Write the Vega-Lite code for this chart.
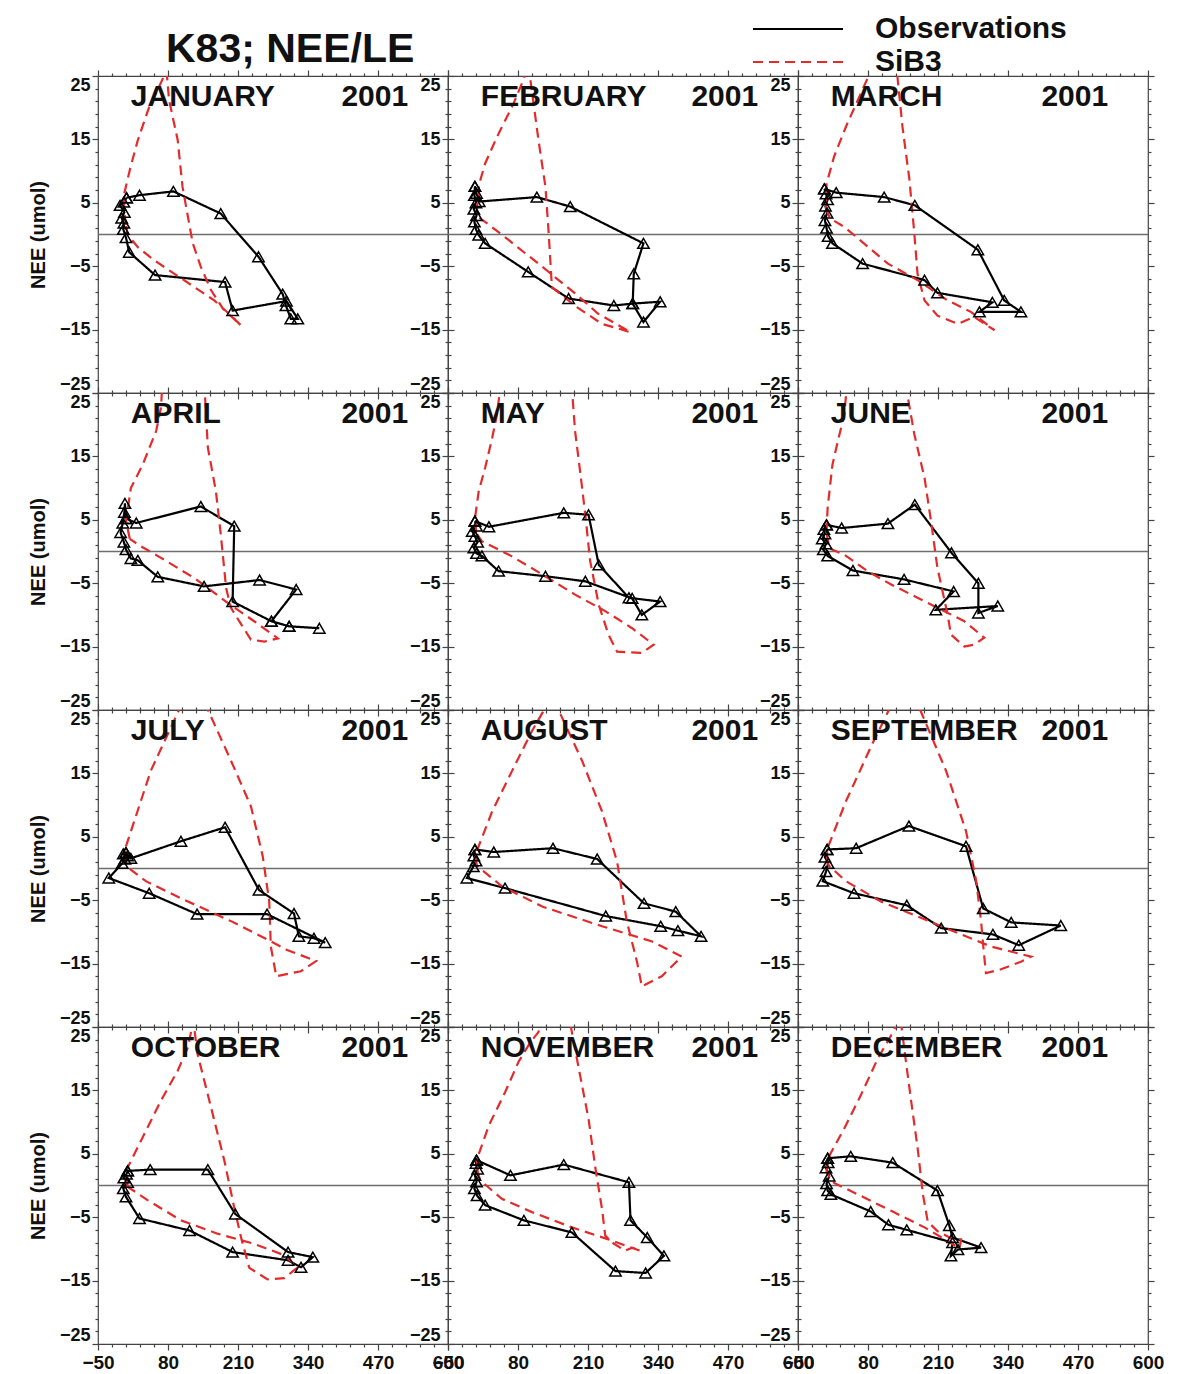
{
"$schema": "https://vega.github.io/schema/vega-lite/v6.json",
"padding": {"left": 27, "top": 14, "right": 10, "bottom": 5},
"title": {"text": "K83; NEE/LE", "anchor": "start", "frame": "group", "dx": 68, "dy": 89, "offset": 0, "baseline": "alphabetic", "fontSize": 41, "font": "Liberation Sans", "fontWeight": "bold", "color": "#111"},
"data": {"values": [
{"month":1,"series":"Observations","i":0,"le":3,"nee":5.8},{"month":1,"series":"Observations","i":1,"le":27,"nee":6.2},{"month":1,"series":"Observations","i":2,"le":90,"nee":6.8},{"month":1,"series":"Observations","i":3,"le":178,"nee":3.3},{"month":1,"series":"Observations","i":4,"le":248,"nee":-3.5},{"month":1,"series":"Observations","i":5,"le":293,"nee":-9.4},{"month":1,"series":"Observations","i":6,"le":299,"nee":-11.2},{"month":1,"series":"Observations","i":7,"le":308,"nee":-13.3},{"month":1,"series":"Observations","i":8,"le":321,"nee":-13.3},{"month":1,"series":"Observations","i":9,"le":300,"nee":-10.5},{"month":1,"series":"Observations","i":10,"le":200,"nee":-12},{"month":1,"series":"Observations","i":11,"le":186,"nee":-7.5},{"month":1,"series":"Observations","i":12,"le":56,"nee":-6.4},{"month":1,"series":"Observations","i":13,"le":8,"nee":-2.8},{"month":1,"series":"Observations","i":14,"le":2,"nee":-0.5},{"month":1,"series":"Observations","i":15,"le":-3,"nee":0.8},{"month":1,"series":"Observations","i":16,"le":-2,"nee":1.8},{"month":1,"series":"Observations","i":17,"le":-6,"nee":2.6},{"month":1,"series":"Observations","i":18,"le":-1,"nee":3.5},{"month":1,"series":"Observations","i":19,"le":-9,"nee":4.6},{"month":1,"series":"Observations","i":20,"le":-2,"nee":5.1},{"month":1,"series":"Observations","i":21,"le":3,"nee":5.8},
{"month":1,"series":"SiB3","i":0,"le":2,"nee":1.5},{"month":1,"series":"SiB3","i":1,"le":-1,"nee":3.5},{"month":1,"series":"SiB3","i":2,"le":-2,"nee":6.2},{"month":1,"series":"SiB3","i":3,"le":10,"nee":10.5},{"month":1,"series":"SiB3","i":4,"le":24,"nee":14.9},{"month":1,"series":"SiB3","i":5,"le":45,"nee":20.1},{"month":1,"series":"SiB3","i":6,"le":70,"nee":24.5},{"month":1,"series":"SiB3","i":7,"le":76,"nee":27},{"month":1,"series":"SiB3","i":8,"le":82,"nee":21.2},{"month":1,"series":"SiB3","i":9,"le":98,"nee":14.9},{"month":1,"series":"SiB3","i":10,"le":107,"nee":7.5},{"month":1,"series":"SiB3","i":11,"le":117,"nee":2.8},{"month":1,"series":"SiB3","i":12,"le":126,"nee":-1.4},{"month":1,"series":"SiB3","i":13,"le":141,"nee":-5.1},{"month":1,"series":"SiB3","i":14,"le":160,"nee":-8.8},{"month":1,"series":"SiB3","i":15,"le":182,"nee":-11.7},{"month":1,"series":"SiB3","i":16,"le":215,"nee":-14.3},{"month":1,"series":"SiB3","i":17,"le":197,"nee":-12.8},{"month":1,"series":"SiB3","i":18,"le":166,"nee":-10.4},{"month":1,"series":"SiB3","i":19,"le":129,"nee":-8.3},{"month":1,"series":"SiB3","i":20,"le":92,"nee":-6.2},{"month":1,"series":"SiB3","i":21,"le":55,"nee":-4.1},{"month":1,"series":"SiB3","i":22,"le":24,"nee":-2},{"month":1,"series":"SiB3","i":23,"le":5,"nee":0},{"month":1,"series":"SiB3","i":24,"le":2,"nee":1.5},
{"month":2,"series":"Observations","i":0,"le":0,"nee":7.6},{"month":2,"series":"Observations","i":1,"le":3,"nee":6.5},{"month":2,"series":"Observations","i":2,"le":8,"nee":5.2},{"month":2,"series":"Observations","i":3,"le":115,"nee":5.9},{"month":2,"series":"Observations","i":4,"le":177,"nee":4.4},{"month":2,"series":"Observations","i":5,"le":313,"nee":-1.4},{"month":2,"series":"Observations","i":6,"le":295,"nee":-6.2},{"month":2,"series":"Observations","i":7,"le":293,"nee":-10.9},{"month":2,"series":"Observations","i":8,"le":344,"nee":-10.6},{"month":2,"series":"Observations","i":9,"le":313,"nee":-13.8},{"month":2,"series":"Observations","i":10,"le":293,"nee":-10.9},{"month":2,"series":"Observations","i":11,"le":258,"nee":-11.2},{"month":2,"series":"Observations","i":12,"le":174,"nee":-10.1},{"month":2,"series":"Observations","i":13,"le":99,"nee":-5.9},{"month":2,"series":"Observations","i":14,"le":19,"nee":-1.4},{"month":2,"series":"Observations","i":15,"le":7,"nee":-0.1},{"month":2,"series":"Observations","i":16,"le":2,"nee":0.8},{"month":2,"series":"Observations","i":17,"le":-1,"nee":2},{"month":2,"series":"Observations","i":18,"le":3,"nee":3},{"month":2,"series":"Observations","i":19,"le":-2,"nee":4},{"month":2,"series":"Observations","i":20,"le":2,"nee":5},{"month":2,"series":"Observations","i":21,"le":-1,"nee":6.2},{"month":2,"series":"Observations","i":22,"le":0,"nee":7.6},
{"month":2,"series":"SiB3","i":0,"le":3,"nee":3.5},{"month":2,"series":"SiB3","i":1,"le":8,"nee":8},{"month":2,"series":"SiB3","i":2,"le":19,"nee":11.2},{"month":2,"series":"SiB3","i":3,"le":41,"nee":15.4},{"month":2,"series":"SiB3","i":4,"le":72,"nee":20.7},{"month":2,"series":"SiB3","i":5,"le":91,"nee":24.6},{"month":2,"series":"SiB3","i":6,"le":97,"nee":27},{"month":2,"series":"SiB3","i":7,"le":103,"nee":24.4},{"month":2,"series":"SiB3","i":8,"le":118,"nee":14.9},{"month":2,"series":"SiB3","i":9,"le":131,"nee":7.5},{"month":2,"series":"SiB3","i":10,"le":137,"nee":0.2},{"month":2,"series":"SiB3","i":11,"le":143,"nee":-8.3},{"month":2,"series":"SiB3","i":12,"le":190,"nee":-11.5},{"month":2,"series":"SiB3","i":13,"le":236,"nee":-14.1},{"month":2,"series":"SiB3","i":14,"le":289,"nee":-15.4},{"month":2,"series":"SiB3","i":15,"le":229,"nee":-12.5},{"month":2,"series":"SiB3","i":16,"le":186,"nee":-9.3},{"month":2,"series":"SiB3","i":17,"le":118,"nee":-4.6},{"month":2,"series":"SiB3","i":18,"le":63,"nee":-0.9},{"month":2,"series":"SiB3","i":19,"le":19,"nee":2},{"month":2,"series":"SiB3","i":20,"le":5,"nee":2.8},{"month":2,"series":"SiB3","i":21,"le":3,"nee":3.5},
{"month":3,"series":"Observations","i":0,"le":-1,"nee":7.2},{"month":3,"series":"Observations","i":1,"le":21,"nee":6.6},{"month":3,"series":"Observations","i":2,"le":110,"nee":5.9},{"month":3,"series":"Observations","i":3,"le":167,"nee":4.6},{"month":3,"series":"Observations","i":4,"le":284,"nee":-2.4},{"month":3,"series":"Observations","i":5,"le":333,"nee":-10.4},{"month":3,"series":"Observations","i":6,"le":364,"nee":-12.2},{"month":3,"series":"Observations","i":7,"le":287,"nee":-12.2},{"month":3,"series":"Observations","i":8,"le":311,"nee":-10.7},{"month":3,"series":"Observations","i":9,"le":209,"nee":-9.2},{"month":3,"series":"Observations","i":10,"le":185,"nee":-7.2},{"month":3,"series":"Observations","i":11,"le":70,"nee":-4.6},{"month":3,"series":"Observations","i":12,"le":14,"nee":-1.4},{"month":3,"series":"Observations","i":13,"le":6,"nee":-0.3},{"month":3,"series":"Observations","i":14,"le":3,"nee":1},{"month":3,"series":"Observations","i":15,"le":0,"nee":2.2},{"month":3,"series":"Observations","i":16,"le":4,"nee":3.4},{"month":3,"series":"Observations","i":17,"le":1,"nee":4.5},{"month":3,"series":"Observations","i":18,"le":5,"nee":5.5},{"month":3,"series":"Observations","i":19,"le":2,"nee":6.4},{"month":3,"series":"Observations","i":20,"le":-1,"nee":7.2},
{"month":3,"series":"SiB3","i":0,"le":2,"nee":4},{"month":3,"series":"SiB3","i":1,"le":3,"nee":8},{"month":3,"series":"SiB3","i":2,"le":17,"nee":12.3},{"month":3,"series":"SiB3","i":3,"le":39,"nee":17},{"month":3,"series":"SiB3","i":4,"le":61,"nee":21.2},{"month":3,"series":"SiB3","i":5,"le":79,"nee":24.6},{"month":3,"series":"SiB3","i":6,"le":90,"nee":35},{"month":3,"series":"SiB3","i":7,"le":128,"nee":35},{"month":3,"series":"SiB3","i":8,"le":135,"nee":24.6},{"month":3,"series":"SiB3","i":9,"le":144,"nee":17},{"month":3,"series":"SiB3","i":10,"le":157,"nee":8.6},{"month":3,"series":"SiB3","i":11,"le":166,"nee":0.2},{"month":3,"series":"SiB3","i":12,"le":172,"nee":-6.2},{"month":3,"series":"SiB3","i":13,"le":185,"nee":-10.4},{"month":3,"series":"SiB3","i":14,"le":209,"nee":-12.8},{"month":3,"series":"SiB3","i":15,"le":247,"nee":-14.1},{"month":3,"series":"SiB3","i":16,"le":277,"nee":-13},{"month":3,"series":"SiB3","i":17,"le":315,"nee":-15.1},{"month":3,"series":"SiB3","i":18,"le":271,"nee":-12.2},{"month":3,"series":"SiB3","i":19,"le":228,"nee":-10.4},{"month":3,"series":"SiB3","i":20,"le":172,"nee":-7.2},{"month":3,"series":"SiB3","i":21,"le":117,"nee":-4.6},{"month":3,"series":"SiB3","i":22,"le":36,"nee":1.2},{"month":3,"series":"SiB3","i":23,"le":10,"nee":2.5},{"month":3,"series":"SiB3","i":24,"le":2,"nee":4},
{"month":4,"series":"Observations","i":0,"le":2,"nee":5.2},{"month":4,"series":"Observations","i":1,"le":21,"nee":4.5},{"month":4,"series":"Observations","i":2,"le":141,"nee":7.1},{"month":4,"series":"Observations","i":3,"le":203,"nee":4},{"month":4,"series":"Observations","i":4,"le":200,"nee":-7.9},{"month":4,"series":"Observations","i":5,"le":272,"nee":-11},{"month":4,"series":"Observations","i":6,"le":305,"nee":-11.8},{"month":4,"series":"Observations","i":7,"le":361,"nee":-12.1},{"month":4,"series":"Observations","i":8,"le":305,"nee":-11.8},{"month":4,"series":"Observations","i":9,"le":272,"nee":-11},{"month":4,"series":"Observations","i":10,"le":318,"nee":-6},{"month":4,"series":"Observations","i":11,"le":250,"nee":-4.5},{"month":4,"series":"Observations","i":12,"le":147,"nee":-5.5},{"month":4,"series":"Observations","i":13,"le":61,"nee":-4},{"month":4,"series":"Observations","i":14,"le":24,"nee":-1.4},{"month":4,"series":"Observations","i":15,"le":11,"nee":-1.1},{"month":4,"series":"Observations","i":16,"le":2,"nee":0.3},{"month":4,"series":"Observations","i":17,"le":-2,"nee":1.5},{"month":4,"series":"Observations","i":18,"le":-8,"nee":3},{"month":4,"series":"Observations","i":19,"le":-4,"nee":4.5},{"month":4,"series":"Observations","i":20,"le":-1,"nee":6.2},{"month":4,"series":"Observations","i":21,"le":0,"nee":7.6},{"month":4,"series":"Observations","i":22,"le":2,"nee":5.2},
{"month":4,"series":"SiB3","i":0,"le":9,"nee":2},{"month":4,"series":"SiB3","i":1,"le":2,"nee":4.8},{"month":4,"series":"SiB3","i":2,"le":11,"nee":10},{"month":4,"series":"SiB3","i":3,"le":33,"nee":13.7},{"month":4,"series":"SiB3","i":4,"le":58,"nee":19},{"month":4,"series":"SiB3","i":5,"le":67,"nee":22.7},{"month":4,"series":"SiB3","i":6,"le":75,"nee":35},{"month":4,"series":"SiB3","i":7,"le":142,"nee":35},{"month":4,"series":"SiB3","i":8,"le":154,"nee":16.4},{"month":4,"series":"SiB3","i":9,"le":169,"nee":9.5},{"month":4,"series":"SiB3","i":10,"le":178,"nee":2.7},{"month":4,"series":"SiB3","i":11,"le":188,"nee":-5.8},{"month":4,"series":"SiB3","i":12,"le":197,"nee":-8.9},{"month":4,"series":"SiB3","i":13,"le":216,"nee":-11.5},{"month":4,"series":"SiB3","i":14,"le":234,"nee":-13.9},{"month":4,"series":"SiB3","i":15,"le":259,"nee":-14.2},{"month":4,"series":"SiB3","i":16,"le":284,"nee":-13.7},{"month":4,"series":"SiB3","i":17,"le":240,"nee":-11},{"month":4,"series":"SiB3","i":18,"le":191,"nee":-8.1},{"month":4,"series":"SiB3","i":19,"le":129,"nee":-4.2},{"month":4,"series":"SiB3","i":20,"le":67,"nee":-1},{"month":4,"series":"SiB3","i":21,"le":30,"nee":0.8},{"month":4,"series":"SiB3","i":22,"le":9,"nee":2},
{"month":5,"series":"Observations","i":0,"le":0,"nee":4.8},{"month":5,"series":"Observations","i":1,"le":26,"nee":3.9},{"month":5,"series":"Observations","i":2,"le":165,"nee":6.1},{"month":5,"series":"Observations","i":3,"le":211,"nee":5.8},{"month":5,"series":"Observations","i":4,"le":230,"nee":-2.1},{"month":5,"series":"Observations","i":5,"le":286,"nee":-7.3},{"month":5,"series":"Observations","i":6,"le":344,"nee":-7.9},{"month":5,"series":"Observations","i":7,"le":310,"nee":-10},{"month":5,"series":"Observations","i":8,"le":292,"nee":-7.4},{"month":5,"series":"Observations","i":9,"le":205,"nee":-4.7},{"month":5,"series":"Observations","i":10,"le":131,"nee":-3.9},{"month":5,"series":"Observations","i":11,"le":44,"nee":-3.1},{"month":5,"series":"Observations","i":12,"le":13,"nee":-0.7},{"month":5,"series":"Observations","i":13,"le":3,"nee":-0.3},{"month":5,"series":"Observations","i":14,"le":-2,"nee":0.6},{"month":5,"series":"Observations","i":15,"le":5,"nee":1.5},{"month":5,"series":"Observations","i":16,"le":0,"nee":2.4},{"month":5,"series":"Observations","i":17,"le":-5,"nee":3.2},{"month":5,"series":"Observations","i":18,"le":3,"nee":4},{"month":5,"series":"Observations","i":19,"le":0,"nee":4.8},
{"month":5,"series":"SiB3","i":0,"le":2,"nee":3},{"month":5,"series":"SiB3","i":1,"le":1,"nee":5.8},{"month":5,"series":"SiB3","i":2,"le":7,"nee":9.5},{"month":5,"series":"SiB3","i":3,"le":19,"nee":13.2},{"month":5,"series":"SiB3","i":4,"le":32,"nee":17.9},{"month":5,"series":"SiB3","i":5,"le":41,"nee":21.6},{"month":5,"series":"SiB3","i":6,"le":60,"nee":35},{"month":5,"series":"SiB3","i":7,"le":172,"nee":35},{"month":5,"series":"SiB3","i":8,"le":186,"nee":19},{"month":5,"series":"SiB3","i":9,"le":196,"nee":12.2},{"month":5,"series":"SiB3","i":10,"le":205,"nee":5.8},{"month":5,"series":"SiB3","i":11,"le":214,"nee":-1.5},{"month":5,"series":"SiB3","i":12,"le":230,"nee":-8.4},{"month":5,"series":"SiB3","i":13,"le":248,"nee":-13.1},{"month":5,"series":"SiB3","i":14,"le":264,"nee":-15.8},{"month":5,"series":"SiB3","i":15,"le":310,"nee":-16},{"month":5,"series":"SiB3","i":16,"le":332,"nee":-14.7},{"month":5,"series":"SiB3","i":17,"le":292,"nee":-12.1},{"month":5,"series":"SiB3","i":18,"le":242,"nee":-9.4},{"month":5,"series":"SiB3","i":19,"le":186,"nee":-6.8},{"month":5,"series":"SiB3","i":20,"le":125,"nee":-3.6},{"month":5,"series":"SiB3","i":21,"le":63,"nee":-0.5},{"month":5,"series":"SiB3","i":22,"le":13,"nee":1.6},{"month":5,"series":"SiB3","i":23,"le":2,"nee":3},
{"month":6,"series":"Observations","i":0,"le":3,"nee":4.2},{"month":6,"series":"Observations","i":1,"le":31,"nee":3.7},{"month":6,"series":"Observations","i":2,"le":117,"nee":4.4},{"month":6,"series":"Observations","i":3,"le":167,"nee":7.4},{"month":6,"series":"Observations","i":4,"le":235,"nee":-0.2},{"month":6,"series":"Observations","i":5,"le":285,"nee":-5},{"month":6,"series":"Observations","i":6,"le":285,"nee":-9.7},{"month":6,"series":"Observations","i":7,"le":321,"nee":-8.6},{"month":6,"series":"Observations","i":8,"le":206,"nee":-9.2},{"month":6,"series":"Observations","i":9,"le":239,"nee":-6.3},{"month":6,"series":"Observations","i":10,"le":147,"nee":-4.4},{"month":6,"series":"Observations","i":11,"le":52,"nee":-3},{"month":6,"series":"Observations","i":12,"le":5,"nee":-0.7},{"month":6,"series":"Observations","i":13,"le":-3,"nee":0.3},{"month":6,"series":"Observations","i":14,"le":2,"nee":1.2},{"month":6,"series":"Observations","i":15,"le":-5,"nee":2},{"month":6,"series":"Observations","i":16,"le":0,"nee":2.8},{"month":6,"series":"Observations","i":17,"le":-2,"nee":3.5},{"month":6,"series":"Observations","i":18,"le":3,"nee":4.2},
{"month":6,"series":"SiB3","i":0,"le":3,"nee":3},{"month":6,"series":"SiB3","i":1,"le":5,"nee":6.9},{"month":6,"series":"SiB3","i":2,"le":14,"nee":13.7},{"month":6,"series":"SiB3","i":3,"le":24,"nee":17.4},{"month":6,"series":"SiB3","i":4,"le":36,"nee":21.6},{"month":6,"series":"SiB3","i":5,"le":50,"nee":35},{"month":6,"series":"SiB3","i":6,"le":132,"nee":35},{"month":6,"series":"SiB3","i":7,"le":166,"nee":18.5},{"month":6,"series":"SiB3","i":8,"le":185,"nee":11.6},{"month":6,"series":"SiB3","i":9,"le":197,"nee":4.8},{"month":6,"series":"SiB3","i":10,"le":209,"nee":-2.6},{"month":6,"series":"SiB3","i":11,"le":228,"nee":-10},{"month":6,"series":"SiB3","i":12,"le":234,"nee":-13.1},{"month":6,"series":"SiB3","i":13,"le":259,"nee":-15},{"month":6,"series":"SiB3","i":14,"le":277,"nee":-14.7},{"month":6,"series":"SiB3","i":15,"le":296,"nee":-13.6},{"month":6,"series":"SiB3","i":16,"le":259,"nee":-11},{"month":6,"series":"SiB3","i":17,"le":172,"nee":-7.3},{"month":6,"series":"SiB3","i":18,"le":123,"nee":-5.2},{"month":6,"series":"SiB3","i":19,"le":79,"nee":-3.1},{"month":6,"series":"SiB3","i":20,"le":36,"nee":-0.5},{"month":6,"series":"SiB3","i":21,"le":8,"nee":0.5},{"month":6,"series":"SiB3","i":22,"le":3,"nee":3},
{"month":7,"series":"Observations","i":0,"le":2,"nee":2.5},{"month":7,"series":"Observations","i":1,"le":11,"nee":1.6},{"month":7,"series":"Observations","i":2,"le":104,"nee":4.3},{"month":7,"series":"Observations","i":3,"le":186,"nee":6.5},{"month":7,"series":"Observations","i":4,"le":249,"nee":-3.4},{"month":7,"series":"Observations","i":5,"le":314,"nee":-7.1},{"month":7,"series":"Observations","i":6,"le":323,"nee":-10.7},{"month":7,"series":"Observations","i":7,"le":351,"nee":-11},{"month":7,"series":"Observations","i":8,"le":372,"nee":-11.7},{"month":7,"series":"Observations","i":9,"le":264,"nee":-7.2},{"month":7,"series":"Observations","i":10,"le":134,"nee":-7.2},{"month":7,"series":"Observations","i":11,"le":45,"nee":-3.9},{"month":7,"series":"Observations","i":12,"le":-30,"nee":-1.5},{"month":7,"series":"Observations","i":13,"le":-5,"nee":0.8},{"month":7,"series":"Observations","i":14,"le":0,"nee":1.5},{"month":7,"series":"Observations","i":15,"le":5,"nee":2},{"month":7,"series":"Observations","i":16,"le":-3,"nee":2.3},{"month":7,"series":"Observations","i":17,"le":2,"nee":2.5},
{"month":7,"series":"SiB3","i":0,"le":2,"nee":1},{"month":7,"series":"SiB3","i":1,"le":0,"nee":3},{"month":7,"series":"SiB3","i":2,"le":48,"nee":15.4},{"month":7,"series":"SiB3","i":3,"le":95,"nee":24},{"month":7,"series":"SiB3","i":4,"le":127,"nee":30},{"month":7,"series":"SiB3","i":5,"le":151,"nee":25.6},{"month":7,"series":"SiB3","i":6,"le":197,"nee":17},{"month":7,"series":"SiB3","i":7,"le":234,"nee":9.8},{"month":7,"series":"SiB3","i":8,"le":256,"nee":1.9},{"month":7,"series":"SiB3","i":9,"le":268,"nee":-5.2},{"month":7,"series":"SiB3","i":10,"le":271,"nee":-12.3},{"month":7,"series":"SiB3","i":11,"le":281,"nee":-17},{"month":7,"series":"SiB3","i":12,"le":327,"nee":-16.2},{"month":7,"series":"SiB3","i":13,"le":355,"nee":-14.6},{"month":7,"series":"SiB3","i":14,"le":300,"nee":-12.8},{"month":7,"series":"SiB3","i":15,"le":271,"nee":-11.5},{"month":7,"series":"SiB3","i":16,"le":197,"nee":-8.3},{"month":7,"series":"SiB3","i":17,"le":104,"nee":-4.7},{"month":7,"series":"SiB3","i":18,"le":39,"nee":-2},{"month":7,"series":"SiB3","i":19,"le":2,"nee":0.4},{"month":7,"series":"SiB3","i":20,"le":2,"nee":1},
{"month":8,"series":"Observations","i":0,"le":0,"nee":3},{"month":8,"series":"Observations","i":1,"le":35,"nee":2.6},{"month":8,"series":"Observations","i":2,"le":145,"nee":3.2},{"month":8,"series":"Observations","i":3,"le":227,"nee":1.5},{"month":8,"series":"Observations","i":4,"le":314,"nee":-5.5},{"month":8,"series":"Observations","i":5,"le":373,"nee":-6.8},{"month":8,"series":"Observations","i":6,"le":420,"nee":-10.7},{"month":8,"series":"Observations","i":7,"le":377,"nee":-9.8},{"month":8,"series":"Observations","i":8,"le":345,"nee":-9.1},{"month":8,"series":"Observations","i":9,"le":243,"nee":-7.5},{"month":8,"series":"Observations","i":10,"le":56,"nee":-3.1},{"month":8,"series":"Observations","i":11,"le":-15,"nee":-1.5},{"month":8,"series":"Observations","i":12,"le":-3,"nee":0.3},{"month":8,"series":"Observations","i":13,"le":2,"nee":1.2},{"month":8,"series":"Observations","i":14,"le":-2,"nee":2},{"month":8,"series":"Observations","i":15,"le":0,"nee":3},
{"month":8,"series":"SiB3","i":0,"le":4,"nee":0.4},{"month":8,"series":"SiB3","i":1,"le":0,"nee":2},{"month":8,"series":"SiB3","i":2,"le":32,"nee":9},{"month":8,"series":"SiB3","i":3,"le":69,"nee":15.4},{"month":8,"series":"SiB3","i":4,"le":106,"nee":21.7},{"month":8,"series":"SiB3","i":5,"le":125,"nee":24.5},{"month":8,"series":"SiB3","i":6,"le":143,"nee":27.2},{"month":8,"series":"SiB3","i":7,"le":152,"nee":25.6},{"month":8,"series":"SiB3","i":8,"le":199,"nee":17},{"month":8,"series":"SiB3","i":9,"le":236,"nee":9},{"month":8,"series":"SiB3","i":10,"le":264,"nee":1.1},{"month":8,"series":"SiB3","i":11,"le":282,"nee":-8.3},{"month":8,"series":"SiB3","i":12,"le":301,"nee":-14.7},{"month":8,"series":"SiB3","i":13,"le":310,"nee":-18.6},{"month":8,"series":"SiB3","i":14,"le":347,"nee":-17},{"month":8,"series":"SiB3","i":15,"le":384,"nee":-13.9},{"month":8,"series":"SiB3","i":16,"le":329,"nee":-11.5},{"month":8,"series":"SiB3","i":17,"le":236,"nee":-9.1},{"month":8,"series":"SiB3","i":18,"le":125,"nee":-6},{"month":8,"series":"SiB3","i":19,"le":50,"nee":-2.8},{"month":8,"series":"SiB3","i":20,"le":4,"nee":0.4},
{"month":9,"series":"Observations","i":0,"le":4,"nee":3},{"month":9,"series":"Observations","i":1,"le":58,"nee":3.2},{"month":9,"series":"Observations","i":2,"le":156,"nee":6.7},{"month":9,"series":"Observations","i":3,"le":262,"nee":3.5},{"month":9,"series":"Observations","i":4,"le":294,"nee":-6.3},{"month":9,"series":"Observations","i":5,"le":346,"nee":-8.5},{"month":9,"series":"Observations","i":6,"le":438,"nee":-9},{"month":9,"series":"Observations","i":7,"le":360,"nee":-12.1},{"month":9,"series":"Observations","i":8,"le":312,"nee":-10.4},{"month":9,"series":"Observations","i":9,"le":216,"nee":-9.4},{"month":9,"series":"Observations","i":10,"le":152,"nee":-5.8},{"month":9,"series":"Observations","i":11,"le":54,"nee":-3.9},{"month":9,"series":"Observations","i":12,"le":-4,"nee":-2},{"month":9,"series":"Observations","i":13,"le":2,"nee":-0.5},{"month":9,"series":"Observations","i":14,"le":6,"nee":0.8},{"month":9,"series":"Observations","i":15,"le":0,"nee":1.8},{"month":9,"series":"Observations","i":16,"le":4,"nee":3},
{"month":9,"series":"SiB3","i":0,"le":4,"nee":1},{"month":9,"series":"SiB3","i":1,"le":4,"nee":3},{"month":9,"series":"SiB3","i":2,"le":39,"nee":10.6},{"month":9,"series":"SiB3","i":3,"le":86,"nee":19.3},{"month":9,"series":"SiB3","i":4,"le":113,"nee":24},{"month":9,"series":"SiB3","i":5,"le":150,"nee":30.4},{"month":9,"series":"SiB3","i":6,"le":178,"nee":24.8},{"month":9,"series":"SiB3","i":7,"le":225,"nee":15.4},{"month":9,"series":"SiB3","i":8,"le":262,"nee":5.9},{"month":9,"series":"SiB3","i":9,"le":281,"nee":-2},{"month":9,"series":"SiB3","i":10,"le":290,"nee":-8.3},{"month":9,"series":"SiB3","i":11,"le":295,"nee":-13.1},{"month":9,"series":"SiB3","i":12,"le":299,"nee":-16.5},{"month":9,"series":"SiB3","i":13,"le":327,"nee":-15.9},{"month":9,"series":"SiB3","i":14,"le":364,"nee":-14.7},{"month":9,"series":"SiB3","i":15,"le":383,"nee":-13.9},{"month":9,"series":"SiB3","i":16,"le":308,"nee":-12.3},{"month":9,"series":"SiB3","i":17,"le":216,"nee":-9.1},{"month":9,"series":"SiB3","i":18,"le":104,"nee":-5.2},{"month":9,"series":"SiB3","i":19,"le":39,"nee":-2},{"month":9,"series":"SiB3","i":20,"le":8,"nee":0.4},{"month":9,"series":"SiB3","i":21,"le":4,"nee":1},
{"month":10,"series":"Observations","i":0,"le":5,"nee":2.3},{"month":10,"series":"Observations","i":1,"le":47,"nee":2.5},{"month":10,"series":"Observations","i":2,"le":154,"nee":2.5},{"month":10,"series":"Observations","i":3,"le":205,"nee":-4.5},{"month":10,"series":"Observations","i":4,"le":303,"nee":-10.5},{"month":10,"series":"Observations","i":5,"le":349,"nee":-11.3},{"month":10,"series":"Observations","i":6,"le":327,"nee":-12.9},{"month":10,"series":"Observations","i":7,"le":303,"nee":-11.8},{"month":10,"series":"Observations","i":8,"le":200,"nee":-10.5},{"month":10,"series":"Observations","i":9,"le":120,"nee":-7.1},{"month":10,"series":"Observations","i":10,"le":27,"nee":-5.2},{"month":10,"series":"Observations","i":11,"le":2,"nee":-1.8},{"month":10,"series":"Observations","i":12,"le":-3,"nee":-0.5},{"month":10,"series":"Observations","i":13,"le":5,"nee":0.5},{"month":10,"series":"Observations","i":14,"le":-2,"nee":1.2},{"month":10,"series":"Observations","i":15,"le":3,"nee":1.8},{"month":10,"series":"Observations","i":16,"le":5,"nee":2.3},
{"month":10,"series":"SiB3","i":0,"le":5,"nee":-0.2},{"month":10,"series":"SiB3","i":1,"le":2,"nee":2.3},{"month":10,"series":"SiB3","i":2,"le":30,"nee":7.1},{"month":10,"series":"SiB3","i":3,"le":67,"nee":13.4},{"month":10,"series":"SiB3","i":4,"le":98,"nee":18.1},{"month":10,"series":"SiB3","i":5,"le":117,"nee":21.8},{"month":10,"series":"SiB3","i":6,"le":127,"nee":26},{"month":10,"series":"SiB3","i":7,"le":135,"nee":20.7},{"month":10,"series":"SiB3","i":8,"le":160,"nee":12.3},{"month":10,"series":"SiB3","i":9,"le":185,"nee":3.8},{"month":10,"series":"SiB3","i":10,"le":203,"nee":-3.5},{"month":10,"series":"SiB3","i":11,"le":216,"nee":-8.3},{"month":10,"series":"SiB3","i":12,"le":231,"nee":-13},{"month":10,"series":"SiB3","i":13,"le":265,"nee":-14.8},{"month":10,"series":"SiB3","i":14,"le":296,"nee":-14.6},{"month":10,"series":"SiB3","i":15,"le":321,"nee":-12.9},{"month":10,"series":"SiB3","i":16,"le":296,"nee":-11},{"month":10,"series":"SiB3","i":17,"le":240,"nee":-9.2},{"month":10,"series":"SiB3","i":18,"le":172,"nee":-7.6},{"month":10,"series":"SiB3","i":19,"le":104,"nee":-5.5},{"month":10,"series":"SiB3","i":20,"le":42,"nee":-2.3},{"month":10,"series":"SiB3","i":21,"le":5,"nee":-0.2},
{"month":11,"series":"Observations","i":0,"le":3,"nee":4},{"month":11,"series":"Observations","i":1,"le":66,"nee":1.6},{"month":11,"series":"Observations","i":2,"le":165,"nee":3.3},{"month":11,"series":"Observations","i":3,"le":286,"nee":0.5},{"month":11,"series":"Observations","i":4,"le":289,"nee":-5.5},{"month":11,"series":"Observations","i":5,"le":320,"nee":-8.2},{"month":11,"series":"Observations","i":6,"le":351,"nee":-11.1},{"month":11,"series":"Observations","i":7,"le":317,"nee":-13.8},{"month":11,"series":"Observations","i":8,"le":261,"nee":-13.5},{"month":11,"series":"Observations","i":9,"le":180,"nee":-7.4},{"month":11,"series":"Observations","i":10,"le":91,"nee":-5.5},{"month":11,"series":"Observations","i":11,"le":19,"nee":-3.1},{"month":11,"series":"Observations","i":12,"le":4,"nee":-1.6},{"month":11,"series":"Observations","i":13,"le":-1,"nee":-0.5},{"month":11,"series":"Observations","i":14,"le":3,"nee":0.6},{"month":11,"series":"Observations","i":15,"le":0,"nee":1.6},{"month":11,"series":"Observations","i":16,"le":5,"nee":2.6},{"month":11,"series":"Observations","i":17,"le":2,"nee":3.5},{"month":11,"series":"Observations","i":18,"le":3,"nee":4},
{"month":11,"series":"SiB3","i":0,"le":4,"nee":2.5},{"month":11,"series":"SiB3","i":1,"le":4,"nee":4.2},{"month":11,"series":"SiB3","i":2,"le":26,"nee":9.5},{"month":11,"series":"SiB3","i":3,"le":56,"nee":14.7},{"month":11,"series":"SiB3","i":4,"le":81,"nee":19.5},{"month":11,"series":"SiB3","i":5,"le":103,"nee":22.6},{"month":11,"series":"SiB3","i":6,"le":118,"nee":24.2},{"month":11,"series":"SiB3","i":7,"le":130,"nee":30},{"month":11,"series":"SiB3","i":8,"le":168,"nee":30},{"month":11,"series":"SiB3","i":9,"le":180,"nee":24.2},{"month":11,"series":"SiB3","i":10,"le":193,"nee":18.4},{"month":11,"series":"SiB3","i":11,"le":211,"nee":10.5},{"month":11,"series":"SiB3","i":12,"le":224,"nee":2.6},{"month":11,"series":"SiB3","i":13,"le":236,"nee":-3.7},{"month":11,"series":"SiB3","i":14,"le":242,"nee":-7.9},{"month":11,"series":"SiB3","i":15,"le":255,"nee":-9},{"month":11,"series":"SiB3","i":16,"le":279,"nee":-10.3},{"month":11,"series":"SiB3","i":17,"le":292,"nee":-9.8},{"month":11,"series":"SiB3","i":18,"le":307,"nee":-10.3},{"month":11,"series":"SiB3","i":19,"le":248,"nee":-8.5},{"month":11,"series":"SiB3","i":20,"le":180,"nee":-6.6},{"month":11,"series":"SiB3","i":21,"le":106,"nee":-4.2},{"month":11,"series":"SiB3","i":22,"le":50,"nee":-2.1},{"month":11,"series":"SiB3","i":23,"le":10,"nee":0.8},{"month":11,"series":"SiB3","i":24,"le":4,"nee":2.5},
{"month":12,"series":"Observations","i":0,"le":5,"nee":4.3},{"month":12,"series":"Observations","i":1,"le":48,"nee":4.6},{"month":12,"series":"Observations","i":2,"le":126,"nee":3.6},{"month":12,"series":"Observations","i":3,"le":209,"nee":-0.8},{"month":12,"series":"Observations","i":4,"le":231,"nee":-6.3},{"month":12,"series":"Observations","i":5,"le":237,"nee":-8.2},{"month":12,"series":"Observations","i":6,"le":290,"nee":-9.8},{"month":12,"series":"Observations","i":7,"le":247,"nee":-10.1},{"month":12,"series":"Observations","i":8,"le":234,"nee":-11.1},{"month":12,"series":"Observations","i":9,"le":237,"nee":-9},{"month":12,"series":"Observations","i":10,"le":152,"nee":-7},{"month":12,"series":"Observations","i":11,"le":118,"nee":-6.2},{"month":12,"series":"Observations","i":12,"le":85,"nee":-4.1},{"month":12,"series":"Observations","i":13,"le":11,"nee":-1.4},{"month":12,"series":"Observations","i":14,"le":5,"nee":-0.8},{"month":12,"series":"Observations","i":15,"le":3,"nee":0.3},{"month":12,"series":"Observations","i":16,"le":8,"nee":1.5},{"month":12,"series":"Observations","i":17,"le":2,"nee":2.8},{"month":12,"series":"Observations","i":18,"le":6,"nee":3.6},{"month":12,"series":"Observations","i":19,"le":5,"nee":4.3},
{"month":12,"series":"SiB3","i":0,"le":3,"nee":2},{"month":12,"series":"SiB3","i":1,"le":5,"nee":4.2},{"month":12,"series":"SiB3","i":2,"le":36,"nee":9},{"month":12,"series":"SiB3","i":3,"le":67,"nee":14.3},{"month":12,"series":"SiB3","i":4,"le":98,"nee":20},{"month":12,"series":"SiB3","i":5,"le":123,"nee":23.7},{"month":12,"series":"SiB3","i":6,"le":140,"nee":26.5},{"month":12,"series":"SiB3","i":7,"le":147,"nee":21.8},{"month":12,"series":"SiB3","i":8,"le":160,"nee":13.4},{"month":12,"series":"SiB3","i":9,"le":172,"nee":6},{"month":12,"series":"SiB3","i":10,"le":182,"nee":-1.4},{"month":12,"series":"SiB3","i":11,"le":191,"nee":-5.7},{"month":12,"series":"SiB3","i":12,"le":209,"nee":-7.2},{"month":12,"series":"SiB3","i":13,"le":234,"nee":-8.3},{"month":12,"series":"SiB3","i":14,"le":253,"nee":-8.5},{"month":12,"series":"SiB3","i":15,"le":250,"nee":-9.9},{"month":12,"series":"SiB3","i":16,"le":185,"nee":-6.6},{"month":12,"series":"SiB3","i":17,"le":123,"nee":-4},{"month":12,"series":"SiB3","i":18,"le":61,"nee":-1.4},{"month":12,"series":"SiB3","i":19,"le":17,"nee":0.4},{"month":12,"series":"SiB3","i":20,"le":3,"nee":2}
]},
"datasets": {"labels": [
{"month":1,"name":"JANUARY","year":"2001"},{"month":2,"name":"FEBRUARY","year":"2001"},{"month":3,"name":"MARCH","year":"2001"},{"month":4,"name":"APRIL","year":"2001"},{"month":5,"name":"MAY","year":"2001"},{"month":6,"name":"JUNE","year":"2001"},{"month":7,"name":"JULY","year":"2001"},{"month":8,"name":"AUGUST","year":"2001"},{"month":9,"name":"SEPTEMBER","year":"2001"},{"month":10,"name":"OCTOBER","year":"2001"},{"month":11,"name":"NOVEMBER","year":"2001"},{"month":12,"name":"DECEMBER","year":"2001"}
]},
"columns": 3,
"spacing": 0,
"bounds": "flush",
"concat": [
{"layer":[
{"data":{"name":"labels"},"transform":[{"filter":"datum.month==1"}],"mark":"rule","encoding":{"y":{"datum":0,"type":"quantitative","scale":{"domain":[-25,25],"nice":false,"zero":false},"axis":{"values":[-25,-23,-21,-19,-17,-15,-13,-11,-9,-7,-5,-3,-1,1,3,5,7,9,11,13,15,17,19,21,23,25],"tickSize":{"condition":{"test":"abs(datum.value)%10==5","value":6},"value":3},"labelExpr":"abs(datum.value)%10==5 ? datum.label : ''","title":"NEE (umol)"}}}},
{"transform":[{"filter":"datum.month==1"}],"mark":{"type":"line","clip":true},"encoding":{"x":{"field":"le","type":"quantitative","scale":{"domain":[-50,600],"nice":false,"zero":false},"axis":{"values":[-50,-24,2,28,54,80,106,132,158,184,210,236,262,288,314,340,366,392,418,444,470,496,522,548,574,600],"tickSize":{"condition":{"test":"(datum.value+50)%130==0","value":6},"value":3},"labels":false,"title":null}},"y":{"field":"nee","type":"quantitative","scale":{"domain":[-25,25],"nice":false,"zero":false},"axis":null},"color":{"field":"series","type":"nominal","scale":{"domain":["Observations","SiB3"],"range":["#000000","#e32b2b"]},"legend":{"title":null,"orient":"none","legendX":685,"legendY":-62,"symbolType":"M-9,0H9","symbolSize":100,"symbolStrokeWidth":2,"labelOffset":62,"rowPadding":3,"labelFontSize":30,"labelFontWeight":"bold","labelFont":"Liberation Sans","labelLimit":400}},"strokeDash":{"field":"series","type":"nominal","scale":{"domain":["Observations","SiB3"],"range":[[1,0],[10,6]]},"legend":{"title":null,"orient":"none","legendX":685,"legendY":-62,"symbolType":"M-9,0H9","symbolSize":100,"symbolStrokeWidth":2,"labelOffset":62,"rowPadding":3,"labelFontSize":30,"labelFontWeight":"bold","labelFont":"Liberation Sans","labelLimit":400}},"order":{"field":"i","type":"quantitative"}}},
{"transform":[{"filter":"datum.month==1 && datum.series=='Observations'"}],"mark":"point","encoding":{"x":{"field":"le","type":"quantitative","axis":{"orient":"top","values":[-50,-24,2,28,54,80,106,132,158,184,210,236,262,288,314,340,366,392,418,444,470,496,522,548,574,600],"tickSize":{"condition":{"test":"(datum.value+50)%130==0","value":6},"value":3},"labels":false,"title":null}},"y":{"field":"nee","type":"quantitative","axis":{"orient":"right","values":[-25,-23,-21,-19,-17,-15,-13,-11,-9,-7,-5,-3,-1,1,3,5,7,9,11,13,15,17,19,21,23,25],"tickSize":{"condition":{"test":"abs(datum.value)%10==5","value":6},"value":3},"labels":false,"title":null}}}},
{"data":{"name":"labels"},"transform":[{"filter":"datum.month==1"}],"mark":"text","encoding":{"x":{"datum":11,"type":"quantitative","axis":null},"y":{"datum":20.2,"type":"quantitative","axis":null},"text":{"field":"name"}}},
{"data":{"name":"labels"},"transform":[{"filter":"datum.month==1"}],"mark":{"type":"text","align":"right"},"encoding":{"x":{"datum":526,"type":"quantitative","axis":null},"y":{"datum":20.2,"type":"quantitative","axis":null},"text":{"field":"year"}}}
],"resolve":{"axis":{"x":"independent","y":"independent"}}},
{"layer":[
{"data":{"name":"labels"},"transform":[{"filter":"datum.month==2"}],"mark":"rule","encoding":{"y":{"datum":0,"type":"quantitative","scale":{"domain":[-25,25],"nice":false,"zero":false},"axis":{"values":[-25,-23,-21,-19,-17,-15,-13,-11,-9,-7,-5,-3,-1,1,3,5,7,9,11,13,15,17,19,21,23,25],"tickSize":{"condition":{"test":"abs(datum.value)%10==5","value":6},"value":3},"labelExpr":"abs(datum.value)%10==5 ? datum.label : ''","title":null}}}},
{"transform":[{"filter":"datum.month==2"}],"mark":{"type":"line","clip":true},"encoding":{"x":{"field":"le","type":"quantitative","scale":{"domain":[-50,600],"nice":false,"zero":false},"axis":{"values":[-50,-24,2,28,54,80,106,132,158,184,210,236,262,288,314,340,366,392,418,444,470,496,522,548,574,600],"tickSize":{"condition":{"test":"(datum.value+50)%130==0","value":6},"value":3},"labels":false,"title":null}},"y":{"field":"nee","type":"quantitative","scale":{"domain":[-25,25],"nice":false,"zero":false},"axis":null},"color":{"field":"series","type":"nominal","scale":{"domain":["Observations","SiB3"],"range":["#000000","#e32b2b"]},"legend":{"title":null}},"strokeDash":{"field":"series","type":"nominal","scale":{"domain":["Observations","SiB3"],"range":[[1,0],[10,6]]},"legend":{"title":null}},"order":{"field":"i","type":"quantitative"}}},
{"transform":[{"filter":"datum.month==2 && datum.series=='Observations'"}],"mark":"point","encoding":{"x":{"field":"le","type":"quantitative","axis":{"orient":"top","values":[-50,-24,2,28,54,80,106,132,158,184,210,236,262,288,314,340,366,392,418,444,470,496,522,548,574,600],"tickSize":{"condition":{"test":"(datum.value+50)%130==0","value":6},"value":3},"labels":false,"title":null}},"y":{"field":"nee","type":"quantitative","axis":{"orient":"right","values":[-25,-23,-21,-19,-17,-15,-13,-11,-9,-7,-5,-3,-1,1,3,5,7,9,11,13,15,17,19,21,23,25],"tickSize":{"condition":{"test":"abs(datum.value)%10==5","value":6},"value":3},"labels":false,"title":null}}}},
{"data":{"name":"labels"},"transform":[{"filter":"datum.month==2"}],"mark":"text","encoding":{"x":{"datum":11,"type":"quantitative","axis":null},"y":{"datum":20.2,"type":"quantitative","axis":null},"text":{"field":"name"}}},
{"data":{"name":"labels"},"transform":[{"filter":"datum.month==2"}],"mark":{"type":"text","align":"right"},"encoding":{"x":{"datum":526,"type":"quantitative","axis":null},"y":{"datum":20.2,"type":"quantitative","axis":null},"text":{"field":"year"}}}
],"resolve":{"axis":{"x":"independent","y":"independent"}}},
{"layer":[
{"data":{"name":"labels"},"transform":[{"filter":"datum.month==3"}],"mark":"rule","encoding":{"y":{"datum":0,"type":"quantitative","scale":{"domain":[-25,25],"nice":false,"zero":false},"axis":{"values":[-25,-23,-21,-19,-17,-15,-13,-11,-9,-7,-5,-3,-1,1,3,5,7,9,11,13,15,17,19,21,23,25],"tickSize":{"condition":{"test":"abs(datum.value)%10==5","value":6},"value":3},"labelExpr":"abs(datum.value)%10==5 ? datum.label : ''","title":null}}}},
{"transform":[{"filter":"datum.month==3"}],"mark":{"type":"line","clip":true},"encoding":{"x":{"field":"le","type":"quantitative","scale":{"domain":[-50,600],"nice":false,"zero":false},"axis":{"values":[-50,-24,2,28,54,80,106,132,158,184,210,236,262,288,314,340,366,392,418,444,470,496,522,548,574,600],"tickSize":{"condition":{"test":"(datum.value+50)%130==0","value":6},"value":3},"labels":false,"title":null}},"y":{"field":"nee","type":"quantitative","scale":{"domain":[-25,25],"nice":false,"zero":false},"axis":null},"color":{"field":"series","type":"nominal","scale":{"domain":["Observations","SiB3"],"range":["#000000","#e32b2b"]},"legend":{"title":null}},"strokeDash":{"field":"series","type":"nominal","scale":{"domain":["Observations","SiB3"],"range":[[1,0],[10,6]]},"legend":{"title":null}},"order":{"field":"i","type":"quantitative"}}},
{"transform":[{"filter":"datum.month==3 && datum.series=='Observations'"}],"mark":"point","encoding":{"x":{"field":"le","type":"quantitative","axis":{"orient":"top","values":[-50,-24,2,28,54,80,106,132,158,184,210,236,262,288,314,340,366,392,418,444,470,496,522,548,574,600],"tickSize":{"condition":{"test":"(datum.value+50)%130==0","value":6},"value":3},"labels":false,"title":null}},"y":{"field":"nee","type":"quantitative","axis":{"orient":"right","values":[-25,-23,-21,-19,-17,-15,-13,-11,-9,-7,-5,-3,-1,1,3,5,7,9,11,13,15,17,19,21,23,25],"tickSize":{"condition":{"test":"abs(datum.value)%10==5","value":6},"value":3},"labels":false,"title":null}}}},
{"data":{"name":"labels"},"transform":[{"filter":"datum.month==3"}],"mark":"text","encoding":{"x":{"datum":11,"type":"quantitative","axis":null},"y":{"datum":20.2,"type":"quantitative","axis":null},"text":{"field":"name"}}},
{"data":{"name":"labels"},"transform":[{"filter":"datum.month==3"}],"mark":{"type":"text","align":"right"},"encoding":{"x":{"datum":526,"type":"quantitative","axis":null},"y":{"datum":20.2,"type":"quantitative","axis":null},"text":{"field":"year"}}}
],"resolve":{"axis":{"x":"independent","y":"independent"}}},
{"layer":[
{"data":{"name":"labels"},"transform":[{"filter":"datum.month==4"}],"mark":"rule","encoding":{"y":{"datum":0,"type":"quantitative","scale":{"domain":[-25,25],"nice":false,"zero":false},"axis":{"values":[-25,-23,-21,-19,-17,-15,-13,-11,-9,-7,-5,-3,-1,1,3,5,7,9,11,13,15,17,19,21,23,25],"tickSize":{"condition":{"test":"abs(datum.value)%10==5","value":6},"value":3},"labelExpr":"abs(datum.value)%10==5 ? datum.label : ''","title":"NEE (umol)"}}}},
{"transform":[{"filter":"datum.month==4"}],"mark":{"type":"line","clip":true},"encoding":{"x":{"field":"le","type":"quantitative","scale":{"domain":[-50,600],"nice":false,"zero":false},"axis":{"values":[-50,-24,2,28,54,80,106,132,158,184,210,236,262,288,314,340,366,392,418,444,470,496,522,548,574,600],"tickSize":{"condition":{"test":"(datum.value+50)%130==0","value":6},"value":3},"labels":false,"title":null}},"y":{"field":"nee","type":"quantitative","scale":{"domain":[-25,25],"nice":false,"zero":false},"axis":null},"color":{"field":"series","type":"nominal","scale":{"domain":["Observations","SiB3"],"range":["#000000","#e32b2b"]},"legend":{"title":null}},"strokeDash":{"field":"series","type":"nominal","scale":{"domain":["Observations","SiB3"],"range":[[1,0],[10,6]]},"legend":{"title":null}},"order":{"field":"i","type":"quantitative"}}},
{"transform":[{"filter":"datum.month==4 && datum.series=='Observations'"}],"mark":"point","encoding":{"x":{"field":"le","type":"quantitative","axis":{"orient":"top","values":[-50,-24,2,28,54,80,106,132,158,184,210,236,262,288,314,340,366,392,418,444,470,496,522,548,574,600],"tickSize":{"condition":{"test":"(datum.value+50)%130==0","value":6},"value":3},"labels":false,"title":null}},"y":{"field":"nee","type":"quantitative","axis":{"orient":"right","values":[-25,-23,-21,-19,-17,-15,-13,-11,-9,-7,-5,-3,-1,1,3,5,7,9,11,13,15,17,19,21,23,25],"tickSize":{"condition":{"test":"abs(datum.value)%10==5","value":6},"value":3},"labels":false,"title":null}}}},
{"data":{"name":"labels"},"transform":[{"filter":"datum.month==4"}],"mark":"text","encoding":{"x":{"datum":11,"type":"quantitative","axis":null},"y":{"datum":20.2,"type":"quantitative","axis":null},"text":{"field":"name"}}},
{"data":{"name":"labels"},"transform":[{"filter":"datum.month==4"}],"mark":{"type":"text","align":"right"},"encoding":{"x":{"datum":526,"type":"quantitative","axis":null},"y":{"datum":20.2,"type":"quantitative","axis":null},"text":{"field":"year"}}}
],"resolve":{"axis":{"x":"independent","y":"independent"}}},
{"layer":[
{"data":{"name":"labels"},"transform":[{"filter":"datum.month==5"}],"mark":"rule","encoding":{"y":{"datum":0,"type":"quantitative","scale":{"domain":[-25,25],"nice":false,"zero":false},"axis":{"values":[-25,-23,-21,-19,-17,-15,-13,-11,-9,-7,-5,-3,-1,1,3,5,7,9,11,13,15,17,19,21,23,25],"tickSize":{"condition":{"test":"abs(datum.value)%10==5","value":6},"value":3},"labelExpr":"abs(datum.value)%10==5 ? datum.label : ''","title":null}}}},
{"transform":[{"filter":"datum.month==5"}],"mark":{"type":"line","clip":true},"encoding":{"x":{"field":"le","type":"quantitative","scale":{"domain":[-50,600],"nice":false,"zero":false},"axis":{"values":[-50,-24,2,28,54,80,106,132,158,184,210,236,262,288,314,340,366,392,418,444,470,496,522,548,574,600],"tickSize":{"condition":{"test":"(datum.value+50)%130==0","value":6},"value":3},"labels":false,"title":null}},"y":{"field":"nee","type":"quantitative","scale":{"domain":[-25,25],"nice":false,"zero":false},"axis":null},"color":{"field":"series","type":"nominal","scale":{"domain":["Observations","SiB3"],"range":["#000000","#e32b2b"]},"legend":{"title":null}},"strokeDash":{"field":"series","type":"nominal","scale":{"domain":["Observations","SiB3"],"range":[[1,0],[10,6]]},"legend":{"title":null}},"order":{"field":"i","type":"quantitative"}}},
{"transform":[{"filter":"datum.month==5 && datum.series=='Observations'"}],"mark":"point","encoding":{"x":{"field":"le","type":"quantitative","axis":{"orient":"top","values":[-50,-24,2,28,54,80,106,132,158,184,210,236,262,288,314,340,366,392,418,444,470,496,522,548,574,600],"tickSize":{"condition":{"test":"(datum.value+50)%130==0","value":6},"value":3},"labels":false,"title":null}},"y":{"field":"nee","type":"quantitative","axis":{"orient":"right","values":[-25,-23,-21,-19,-17,-15,-13,-11,-9,-7,-5,-3,-1,1,3,5,7,9,11,13,15,17,19,21,23,25],"tickSize":{"condition":{"test":"abs(datum.value)%10==5","value":6},"value":3},"labels":false,"title":null}}}},
{"data":{"name":"labels"},"transform":[{"filter":"datum.month==5"}],"mark":"text","encoding":{"x":{"datum":11,"type":"quantitative","axis":null},"y":{"datum":20.2,"type":"quantitative","axis":null},"text":{"field":"name"}}},
{"data":{"name":"labels"},"transform":[{"filter":"datum.month==5"}],"mark":{"type":"text","align":"right"},"encoding":{"x":{"datum":526,"type":"quantitative","axis":null},"y":{"datum":20.2,"type":"quantitative","axis":null},"text":{"field":"year"}}}
],"resolve":{"axis":{"x":"independent","y":"independent"}}},
{"layer":[
{"data":{"name":"labels"},"transform":[{"filter":"datum.month==6"}],"mark":"rule","encoding":{"y":{"datum":0,"type":"quantitative","scale":{"domain":[-25,25],"nice":false,"zero":false},"axis":{"values":[-25,-23,-21,-19,-17,-15,-13,-11,-9,-7,-5,-3,-1,1,3,5,7,9,11,13,15,17,19,21,23,25],"tickSize":{"condition":{"test":"abs(datum.value)%10==5","value":6},"value":3},"labelExpr":"abs(datum.value)%10==5 ? datum.label : ''","title":null}}}},
{"transform":[{"filter":"datum.month==6"}],"mark":{"type":"line","clip":true},"encoding":{"x":{"field":"le","type":"quantitative","scale":{"domain":[-50,600],"nice":false,"zero":false},"axis":{"values":[-50,-24,2,28,54,80,106,132,158,184,210,236,262,288,314,340,366,392,418,444,470,496,522,548,574,600],"tickSize":{"condition":{"test":"(datum.value+50)%130==0","value":6},"value":3},"labels":false,"title":null}},"y":{"field":"nee","type":"quantitative","scale":{"domain":[-25,25],"nice":false,"zero":false},"axis":null},"color":{"field":"series","type":"nominal","scale":{"domain":["Observations","SiB3"],"range":["#000000","#e32b2b"]},"legend":{"title":null}},"strokeDash":{"field":"series","type":"nominal","scale":{"domain":["Observations","SiB3"],"range":[[1,0],[10,6]]},"legend":{"title":null}},"order":{"field":"i","type":"quantitative"}}},
{"transform":[{"filter":"datum.month==6 && datum.series=='Observations'"}],"mark":"point","encoding":{"x":{"field":"le","type":"quantitative","axis":{"orient":"top","values":[-50,-24,2,28,54,80,106,132,158,184,210,236,262,288,314,340,366,392,418,444,470,496,522,548,574,600],"tickSize":{"condition":{"test":"(datum.value+50)%130==0","value":6},"value":3},"labels":false,"title":null}},"y":{"field":"nee","type":"quantitative","axis":{"orient":"right","values":[-25,-23,-21,-19,-17,-15,-13,-11,-9,-7,-5,-3,-1,1,3,5,7,9,11,13,15,17,19,21,23,25],"tickSize":{"condition":{"test":"abs(datum.value)%10==5","value":6},"value":3},"labels":false,"title":null}}}},
{"data":{"name":"labels"},"transform":[{"filter":"datum.month==6"}],"mark":"text","encoding":{"x":{"datum":11,"type":"quantitative","axis":null},"y":{"datum":20.2,"type":"quantitative","axis":null},"text":{"field":"name"}}},
{"data":{"name":"labels"},"transform":[{"filter":"datum.month==6"}],"mark":{"type":"text","align":"right"},"encoding":{"x":{"datum":526,"type":"quantitative","axis":null},"y":{"datum":20.2,"type":"quantitative","axis":null},"text":{"field":"year"}}}
],"resolve":{"axis":{"x":"independent","y":"independent"}}},
{"layer":[
{"data":{"name":"labels"},"transform":[{"filter":"datum.month==7"}],"mark":"rule","encoding":{"y":{"datum":0,"type":"quantitative","scale":{"domain":[-25,25],"nice":false,"zero":false},"axis":{"values":[-25,-23,-21,-19,-17,-15,-13,-11,-9,-7,-5,-3,-1,1,3,5,7,9,11,13,15,17,19,21,23,25],"tickSize":{"condition":{"test":"abs(datum.value)%10==5","value":6},"value":3},"labelExpr":"abs(datum.value)%10==5 ? datum.label : ''","title":"NEE (umol)"}}}},
{"transform":[{"filter":"datum.month==7"}],"mark":{"type":"line","clip":true},"encoding":{"x":{"field":"le","type":"quantitative","scale":{"domain":[-50,600],"nice":false,"zero":false},"axis":{"values":[-50,-24,2,28,54,80,106,132,158,184,210,236,262,288,314,340,366,392,418,444,470,496,522,548,574,600],"tickSize":{"condition":{"test":"(datum.value+50)%130==0","value":6},"value":3},"labels":false,"title":null}},"y":{"field":"nee","type":"quantitative","scale":{"domain":[-25,25],"nice":false,"zero":false},"axis":null},"color":{"field":"series","type":"nominal","scale":{"domain":["Observations","SiB3"],"range":["#000000","#e32b2b"]},"legend":{"title":null}},"strokeDash":{"field":"series","type":"nominal","scale":{"domain":["Observations","SiB3"],"range":[[1,0],[10,6]]},"legend":{"title":null}},"order":{"field":"i","type":"quantitative"}}},
{"transform":[{"filter":"datum.month==7 && datum.series=='Observations'"}],"mark":"point","encoding":{"x":{"field":"le","type":"quantitative","axis":{"orient":"top","values":[-50,-24,2,28,54,80,106,132,158,184,210,236,262,288,314,340,366,392,418,444,470,496,522,548,574,600],"tickSize":{"condition":{"test":"(datum.value+50)%130==0","value":6},"value":3},"labels":false,"title":null}},"y":{"field":"nee","type":"quantitative","axis":{"orient":"right","values":[-25,-23,-21,-19,-17,-15,-13,-11,-9,-7,-5,-3,-1,1,3,5,7,9,11,13,15,17,19,21,23,25],"tickSize":{"condition":{"test":"abs(datum.value)%10==5","value":6},"value":3},"labels":false,"title":null}}}},
{"data":{"name":"labels"},"transform":[{"filter":"datum.month==7"}],"mark":"text","encoding":{"x":{"datum":11,"type":"quantitative","axis":null},"y":{"datum":20.2,"type":"quantitative","axis":null},"text":{"field":"name"}}},
{"data":{"name":"labels"},"transform":[{"filter":"datum.month==7"}],"mark":{"type":"text","align":"right"},"encoding":{"x":{"datum":526,"type":"quantitative","axis":null},"y":{"datum":20.2,"type":"quantitative","axis":null},"text":{"field":"year"}}}
],"resolve":{"axis":{"x":"independent","y":"independent"}}},
{"layer":[
{"data":{"name":"labels"},"transform":[{"filter":"datum.month==8"}],"mark":"rule","encoding":{"y":{"datum":0,"type":"quantitative","scale":{"domain":[-25,25],"nice":false,"zero":false},"axis":{"values":[-25,-23,-21,-19,-17,-15,-13,-11,-9,-7,-5,-3,-1,1,3,5,7,9,11,13,15,17,19,21,23,25],"tickSize":{"condition":{"test":"abs(datum.value)%10==5","value":6},"value":3},"labelExpr":"abs(datum.value)%10==5 ? datum.label : ''","title":null}}}},
{"transform":[{"filter":"datum.month==8"}],"mark":{"type":"line","clip":true},"encoding":{"x":{"field":"le","type":"quantitative","scale":{"domain":[-50,600],"nice":false,"zero":false},"axis":{"values":[-50,-24,2,28,54,80,106,132,158,184,210,236,262,288,314,340,366,392,418,444,470,496,522,548,574,600],"tickSize":{"condition":{"test":"(datum.value+50)%130==0","value":6},"value":3},"labels":false,"title":null}},"y":{"field":"nee","type":"quantitative","scale":{"domain":[-25,25],"nice":false,"zero":false},"axis":null},"color":{"field":"series","type":"nominal","scale":{"domain":["Observations","SiB3"],"range":["#000000","#e32b2b"]},"legend":{"title":null}},"strokeDash":{"field":"series","type":"nominal","scale":{"domain":["Observations","SiB3"],"range":[[1,0],[10,6]]},"legend":{"title":null}},"order":{"field":"i","type":"quantitative"}}},
{"transform":[{"filter":"datum.month==8 && datum.series=='Observations'"}],"mark":"point","encoding":{"x":{"field":"le","type":"quantitative","axis":{"orient":"top","values":[-50,-24,2,28,54,80,106,132,158,184,210,236,262,288,314,340,366,392,418,444,470,496,522,548,574,600],"tickSize":{"condition":{"test":"(datum.value+50)%130==0","value":6},"value":3},"labels":false,"title":null}},"y":{"field":"nee","type":"quantitative","axis":{"orient":"right","values":[-25,-23,-21,-19,-17,-15,-13,-11,-9,-7,-5,-3,-1,1,3,5,7,9,11,13,15,17,19,21,23,25],"tickSize":{"condition":{"test":"abs(datum.value)%10==5","value":6},"value":3},"labels":false,"title":null}}}},
{"data":{"name":"labels"},"transform":[{"filter":"datum.month==8"}],"mark":"text","encoding":{"x":{"datum":11,"type":"quantitative","axis":null},"y":{"datum":20.2,"type":"quantitative","axis":null},"text":{"field":"name"}}},
{"data":{"name":"labels"},"transform":[{"filter":"datum.month==8"}],"mark":{"type":"text","align":"right"},"encoding":{"x":{"datum":526,"type":"quantitative","axis":null},"y":{"datum":20.2,"type":"quantitative","axis":null},"text":{"field":"year"}}}
],"resolve":{"axis":{"x":"independent","y":"independent"}}},
{"layer":[
{"data":{"name":"labels"},"transform":[{"filter":"datum.month==9"}],"mark":"rule","encoding":{"y":{"datum":0,"type":"quantitative","scale":{"domain":[-25,25],"nice":false,"zero":false},"axis":{"values":[-25,-23,-21,-19,-17,-15,-13,-11,-9,-7,-5,-3,-1,1,3,5,7,9,11,13,15,17,19,21,23,25],"tickSize":{"condition":{"test":"abs(datum.value)%10==5","value":6},"value":3},"labelExpr":"abs(datum.value)%10==5 ? datum.label : ''","title":null}}}},
{"transform":[{"filter":"datum.month==9"}],"mark":{"type":"line","clip":true},"encoding":{"x":{"field":"le","type":"quantitative","scale":{"domain":[-50,600],"nice":false,"zero":false},"axis":{"values":[-50,-24,2,28,54,80,106,132,158,184,210,236,262,288,314,340,366,392,418,444,470,496,522,548,574,600],"tickSize":{"condition":{"test":"(datum.value+50)%130==0","value":6},"value":3},"labels":false,"title":null}},"y":{"field":"nee","type":"quantitative","scale":{"domain":[-25,25],"nice":false,"zero":false},"axis":null},"color":{"field":"series","type":"nominal","scale":{"domain":["Observations","SiB3"],"range":["#000000","#e32b2b"]},"legend":{"title":null}},"strokeDash":{"field":"series","type":"nominal","scale":{"domain":["Observations","SiB3"],"range":[[1,0],[10,6]]},"legend":{"title":null}},"order":{"field":"i","type":"quantitative"}}},
{"transform":[{"filter":"datum.month==9 && datum.series=='Observations'"}],"mark":"point","encoding":{"x":{"field":"le","type":"quantitative","axis":{"orient":"top","values":[-50,-24,2,28,54,80,106,132,158,184,210,236,262,288,314,340,366,392,418,444,470,496,522,548,574,600],"tickSize":{"condition":{"test":"(datum.value+50)%130==0","value":6},"value":3},"labels":false,"title":null}},"y":{"field":"nee","type":"quantitative","axis":{"orient":"right","values":[-25,-23,-21,-19,-17,-15,-13,-11,-9,-7,-5,-3,-1,1,3,5,7,9,11,13,15,17,19,21,23,25],"tickSize":{"condition":{"test":"abs(datum.value)%10==5","value":6},"value":3},"labels":false,"title":null}}}},
{"data":{"name":"labels"},"transform":[{"filter":"datum.month==9"}],"mark":"text","encoding":{"x":{"datum":11,"type":"quantitative","axis":null},"y":{"datum":20.2,"type":"quantitative","axis":null},"text":{"field":"name"}}},
{"data":{"name":"labels"},"transform":[{"filter":"datum.month==9"}],"mark":{"type":"text","align":"right"},"encoding":{"x":{"datum":526,"type":"quantitative","axis":null},"y":{"datum":20.2,"type":"quantitative","axis":null},"text":{"field":"year"}}}
],"resolve":{"axis":{"x":"independent","y":"independent"}}},
{"layer":[
{"data":{"name":"labels"},"transform":[{"filter":"datum.month==10"}],"mark":"rule","encoding":{"y":{"datum":0,"type":"quantitative","scale":{"domain":[-25,25],"nice":false,"zero":false},"axis":{"values":[-25,-23,-21,-19,-17,-15,-13,-11,-9,-7,-5,-3,-1,1,3,5,7,9,11,13,15,17,19,21,23,25],"tickSize":{"condition":{"test":"abs(datum.value)%10==5","value":6},"value":3},"labelExpr":"abs(datum.value)%10==5 ? datum.label : ''","title":"NEE (umol)"}}}},
{"transform":[{"filter":"datum.month==10"}],"mark":{"type":"line","clip":true},"encoding":{"x":{"field":"le","type":"quantitative","scale":{"domain":[-50,600],"nice":false,"zero":false},"axis":{"values":[-50,-24,2,28,54,80,106,132,158,184,210,236,262,288,314,340,366,392,418,444,470,496,522,548,574,600],"tickSize":{"condition":{"test":"(datum.value+50)%130==0","value":6},"value":3},"labelExpr":"(datum.value+50)%130==0 ? datum.label : ''","title":null}},"y":{"field":"nee","type":"quantitative","scale":{"domain":[-25,25],"nice":false,"zero":false},"axis":null},"color":{"field":"series","type":"nominal","scale":{"domain":["Observations","SiB3"],"range":["#000000","#e32b2b"]},"legend":{"title":null}},"strokeDash":{"field":"series","type":"nominal","scale":{"domain":["Observations","SiB3"],"range":[[1,0],[10,6]]},"legend":{"title":null}},"order":{"field":"i","type":"quantitative"}}},
{"transform":[{"filter":"datum.month==10 && datum.series=='Observations'"}],"mark":"point","encoding":{"x":{"field":"le","type":"quantitative","axis":{"orient":"top","values":[-50,-24,2,28,54,80,106,132,158,184,210,236,262,288,314,340,366,392,418,444,470,496,522,548,574,600],"tickSize":{"condition":{"test":"(datum.value+50)%130==0","value":6},"value":3},"labels":false,"title":null}},"y":{"field":"nee","type":"quantitative","axis":{"orient":"right","values":[-25,-23,-21,-19,-17,-15,-13,-11,-9,-7,-5,-3,-1,1,3,5,7,9,11,13,15,17,19,21,23,25],"tickSize":{"condition":{"test":"abs(datum.value)%10==5","value":6},"value":3},"labels":false,"title":null}}}},
{"data":{"name":"labels"},"transform":[{"filter":"datum.month==10"}],"mark":"text","encoding":{"x":{"datum":11,"type":"quantitative","axis":null},"y":{"datum":20.2,"type":"quantitative","axis":null},"text":{"field":"name"}}},
{"data":{"name":"labels"},"transform":[{"filter":"datum.month==10"}],"mark":{"type":"text","align":"right"},"encoding":{"x":{"datum":526,"type":"quantitative","axis":null},"y":{"datum":20.2,"type":"quantitative","axis":null},"text":{"field":"year"}}}
],"resolve":{"axis":{"x":"independent","y":"independent"}}},
{"layer":[
{"data":{"name":"labels"},"transform":[{"filter":"datum.month==11"}],"mark":"rule","encoding":{"y":{"datum":0,"type":"quantitative","scale":{"domain":[-25,25],"nice":false,"zero":false},"axis":{"values":[-25,-23,-21,-19,-17,-15,-13,-11,-9,-7,-5,-3,-1,1,3,5,7,9,11,13,15,17,19,21,23,25],"tickSize":{"condition":{"test":"abs(datum.value)%10==5","value":6},"value":3},"labelExpr":"abs(datum.value)%10==5 ? datum.label : ''","title":null}}}},
{"transform":[{"filter":"datum.month==11"}],"mark":{"type":"line","clip":true},"encoding":{"x":{"field":"le","type":"quantitative","scale":{"domain":[-50,600],"nice":false,"zero":false},"axis":{"values":[-50,-24,2,28,54,80,106,132,158,184,210,236,262,288,314,340,366,392,418,444,470,496,522,548,574,600],"tickSize":{"condition":{"test":"(datum.value+50)%130==0","value":6},"value":3},"labelExpr":"(datum.value+50)%130==0 ? datum.label : ''","title":null}},"y":{"field":"nee","type":"quantitative","scale":{"domain":[-25,25],"nice":false,"zero":false},"axis":null},"color":{"field":"series","type":"nominal","scale":{"domain":["Observations","SiB3"],"range":["#000000","#e32b2b"]},"legend":{"title":null}},"strokeDash":{"field":"series","type":"nominal","scale":{"domain":["Observations","SiB3"],"range":[[1,0],[10,6]]},"legend":{"title":null}},"order":{"field":"i","type":"quantitative"}}},
{"transform":[{"filter":"datum.month==11 && datum.series=='Observations'"}],"mark":"point","encoding":{"x":{"field":"le","type":"quantitative","axis":{"orient":"top","values":[-50,-24,2,28,54,80,106,132,158,184,210,236,262,288,314,340,366,392,418,444,470,496,522,548,574,600],"tickSize":{"condition":{"test":"(datum.value+50)%130==0","value":6},"value":3},"labels":false,"title":null}},"y":{"field":"nee","type":"quantitative","axis":{"orient":"right","values":[-25,-23,-21,-19,-17,-15,-13,-11,-9,-7,-5,-3,-1,1,3,5,7,9,11,13,15,17,19,21,23,25],"tickSize":{"condition":{"test":"abs(datum.value)%10==5","value":6},"value":3},"labels":false,"title":null}}}},
{"data":{"name":"labels"},"transform":[{"filter":"datum.month==11"}],"mark":"text","encoding":{"x":{"datum":11,"type":"quantitative","axis":null},"y":{"datum":20.2,"type":"quantitative","axis":null},"text":{"field":"name"}}},
{"data":{"name":"labels"},"transform":[{"filter":"datum.month==11"}],"mark":{"type":"text","align":"right"},"encoding":{"x":{"datum":526,"type":"quantitative","axis":null},"y":{"datum":20.2,"type":"quantitative","axis":null},"text":{"field":"year"}}}
],"resolve":{"axis":{"x":"independent","y":"independent"}}},
{"layer":[
{"data":{"name":"labels"},"transform":[{"filter":"datum.month==12"}],"mark":"rule","encoding":{"y":{"datum":0,"type":"quantitative","scale":{"domain":[-25,25],"nice":false,"zero":false},"axis":{"values":[-25,-23,-21,-19,-17,-15,-13,-11,-9,-7,-5,-3,-1,1,3,5,7,9,11,13,15,17,19,21,23,25],"tickSize":{"condition":{"test":"abs(datum.value)%10==5","value":6},"value":3},"labelExpr":"abs(datum.value)%10==5 ? datum.label : ''","title":null}}}},
{"transform":[{"filter":"datum.month==12"}],"mark":{"type":"line","clip":true},"encoding":{"x":{"field":"le","type":"quantitative","scale":{"domain":[-50,600],"nice":false,"zero":false},"axis":{"values":[-50,-24,2,28,54,80,106,132,158,184,210,236,262,288,314,340,366,392,418,444,470,496,522,548,574,600],"tickSize":{"condition":{"test":"(datum.value+50)%130==0","value":6},"value":3},"labelExpr":"(datum.value+50)%130==0 ? datum.label : ''","title":null}},"y":{"field":"nee","type":"quantitative","scale":{"domain":[-25,25],"nice":false,"zero":false},"axis":null},"color":{"field":"series","type":"nominal","scale":{"domain":["Observations","SiB3"],"range":["#000000","#e32b2b"]},"legend":{"title":null}},"strokeDash":{"field":"series","type":"nominal","scale":{"domain":["Observations","SiB3"],"range":[[1,0],[10,6]]},"legend":{"title":null}},"order":{"field":"i","type":"quantitative"}}},
{"transform":[{"filter":"datum.month==12 && datum.series=='Observations'"}],"mark":"point","encoding":{"x":{"field":"le","type":"quantitative","axis":{"orient":"top","values":[-50,-24,2,28,54,80,106,132,158,184,210,236,262,288,314,340,366,392,418,444,470,496,522,548,574,600],"tickSize":{"condition":{"test":"(datum.value+50)%130==0","value":6},"value":3},"labels":false,"title":null}},"y":{"field":"nee","type":"quantitative","axis":{"orient":"right","values":[-25,-23,-21,-19,-17,-15,-13,-11,-9,-7,-5,-3,-1,1,3,5,7,9,11,13,15,17,19,21,23,25],"tickSize":{"condition":{"test":"abs(datum.value)%10==5","value":6},"value":3},"labels":false,"title":null}}}},
{"data":{"name":"labels"},"transform":[{"filter":"datum.month==12"}],"mark":"text","encoding":{"x":{"datum":11,"type":"quantitative","axis":null},"y":{"datum":20.2,"type":"quantitative","axis":null},"text":{"field":"name"}}},
{"data":{"name":"labels"},"transform":[{"filter":"datum.month==12"}],"mark":{"type":"text","align":"right"},"encoding":{"x":{"datum":526,"type":"quantitative","axis":null},"y":{"datum":20.2,"type":"quantitative","axis":null},"text":{"field":"year"}}}
],"resolve":{"axis":{"x":"independent","y":"independent"}}}
],
"config": {
"view": {"continuousWidth": 350, "continuousHeight": 317, "stroke": "#444", "strokeWidth": 1.2},
"axis": {"grid": false, "domain": false, "tickColor": "#444", "tickWidth": 1.2, "labelFont": "Liberation Sans", "labelFontWeight": "bold", "labelColor": "#111", "labelOverlap": false, "titleFont": "Liberation Sans", "titleFontWeight": "bold", "titleColor": "#111", "titleFontSize": 20},
"axisX": {"labelFontSize": 19, "labelPadding": 3, "labelFlush": false},
"axisY": {"labelFontSize": 18, "labelPadding": 2, "labelFlush": true, "labelFlushOffset": 0, "titlePadding": 11},
"legend": {"symbolType": "M-9,0H9", "symbolSize": 100, "symbolStrokeWidth": 2, "labelFont": "Liberation Sans", "labelFontSize": 30, "labelFontWeight": "bold", "labelColor": "#111", "labelOffset": 62, "rowPadding": 3, "labelLimit": 400},
"line": {"strokeWidth": 2.2},
"point": {"shape": "triangle-up", "filled": false, "size": 130, "strokeWidth": 1.5, "color": "#000", "opacity": 1},
"text": {"font": "Liberation Sans", "fontSize": 30, "fontWeight": "bold", "color": "#111", "baseline": "alphabetic", "align": "left"},
"rule": {"color": "#6e6e6e", "strokeWidth": 1.5}
}
}
